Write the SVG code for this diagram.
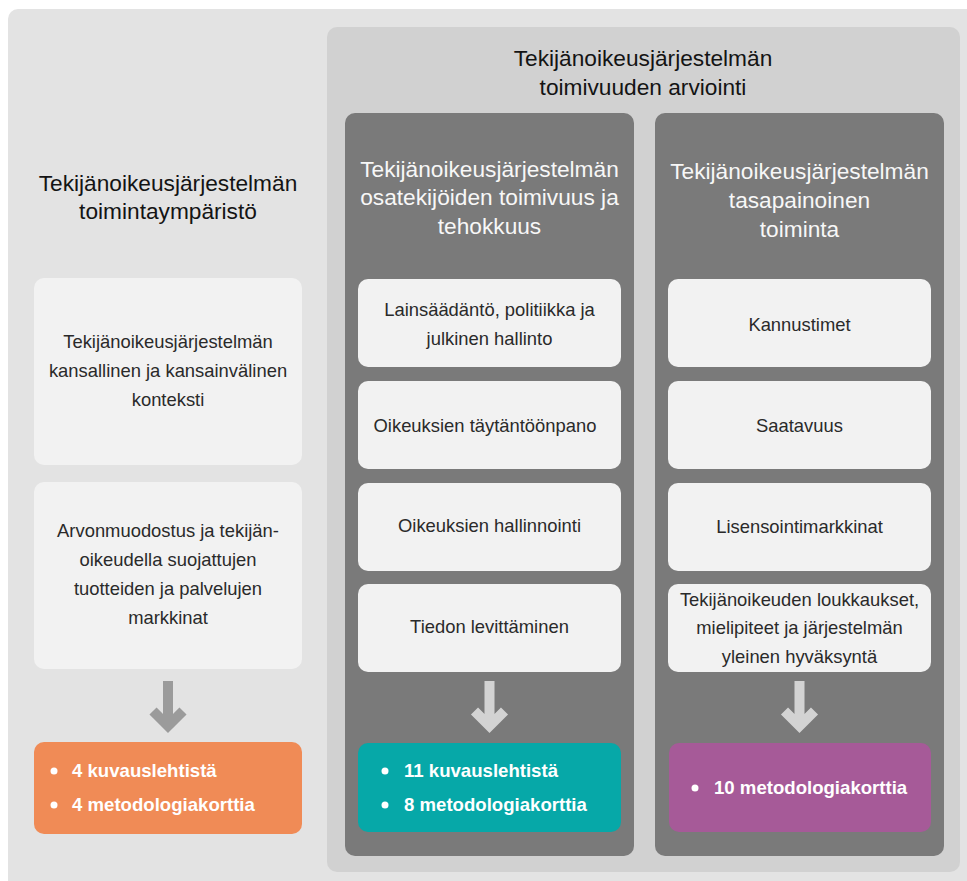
<svg xmlns="http://www.w3.org/2000/svg" width="967" height="881" viewBox="0 0 967 881">
<style>
.h{font-family:"Liberation Sans",Arial,sans-serif;font-size:22.7px;fill:#141414;text-anchor:middle}
.hw{font-family:"Liberation Sans",Arial,sans-serif;font-size:22.7px;fill:#f7f7f7;text-anchor:middle}
.t{font-family:"Liberation Sans",Arial,sans-serif;font-size:18.4px;fill:#2a2a2a;text-anchor:middle}
.b{font-family:"Liberation Sans",Arial,sans-serif;font-size:18.6px;font-weight:bold;fill:#ffffff}
.box{fill:#f2f2f2}
.arL{fill:none;stroke:#9b9b9b;stroke-width:10}
.arD{fill:none;stroke:#d3d3d3;stroke-width:10}
</style>
<rect x="8" y="9" width="970" height="890" rx="10" fill="#e3e3e3"/>
<g id="panel-arviointi">
<rect x="327" y="27" width="633" height="845" rx="10" fill="#d1d1d1"/>
<text class="h" x="643" y="66">Tekijänoikeusjärjestelmän</text>
<text class="h" x="643" y="95">toimivuuden arviointi</text>
</g>
<g id="col-left-heading">
<text class="h" x="168" y="191">Tekijänoikeusjärjestelmän</text>
<text class="h" x="168" y="219">toimintaympäristö</text>
</g>
<g id="col-mid">
<rect x="345" y="113" width="289" height="743" rx="10" fill="#7a7a7a"/>
<text class="hw" x="489.5" y="177">Tekijänoikeusjärjestelmän</text>
<text class="hw" x="489.5" y="205">osatekijöiden toimivuus ja</text>
<text class="hw" x="489.5" y="234">tehokkuus</text>
</g>
<g id="col-right">
<rect x="655" y="113" width="289" height="743" rx="10" fill="#7a7a7a"/>
<text class="hw" x="799.5" y="179">Tekijänoikeusjärjestelmän</text>
<text class="hw" x="799.5" y="208">tasapainoinen</text>
<text class="hw" x="799.5" y="237">toiminta</text>
</g>
<g id="left-box1">
<rect class="box" x="34" y="278" width="268" height="187" rx="10"/>
<text class="t" x="168" y="348">Tekijänoikeusjärjestelmän</text>
<text class="t" x="168" y="377">kansallinen ja kansainvälinen</text>
<text class="t" x="168" y="406">konteksti</text>
</g>
<g id="left-box2">
<rect class="box" x="34" y="482" width="268" height="187" rx="10"/>
<text class="t" x="168" y="537">Arvonmuodostus ja tekijän-</text>
<text class="t" x="168" y="566">oikeudella suojattujen</text>
<text class="t" x="168" y="595">tuotteiden ja palvelujen</text>
<text class="t" x="168" y="624">markkinat</text>
</g>
<g id="mid-box1">
<rect class="box" x="358" y="279" width="263" height="88" rx="10"/>
<text class="t" x="489.5" y="316">Lainsäädäntö, politiikka ja</text>
<text class="t" x="489.5" y="345">julkinen hallinto</text>
</g>
<g id="mid-box2">
<rect class="box" x="358" y="381" width="263" height="88" rx="10"/>
<text class="t" x="485" y="432">Oikeuksien täytäntöönpano</text>
</g>
<g id="mid-box3">
<rect class="box" x="358" y="483" width="263" height="88" rx="10"/>
<text class="t" x="489.5" y="532">Oikeuksien hallinnointi</text>
</g>
<g id="mid-box4">
<rect class="box" x="358" y="584" width="263" height="88" rx="10"/>
<text class="t" x="489.5" y="633">Tiedon levittäminen</text>
</g>
<g id="right-box1">
<rect class="box" x="668" y="279" width="263" height="88" rx="10"/>
<text class="t" x="799.5" y="331">Kannustimet</text>
</g>
<g id="right-box2">
<rect class="box" x="668" y="381" width="263" height="88" rx="10"/>
<text class="t" x="799.5" y="432">Saatavuus</text>
</g>
<g id="right-box3">
<rect class="box" x="668" y="483" width="263" height="88" rx="10"/>
<text class="t" x="799.5" y="533">Lisensointimarkkinat</text>
</g>
<g id="right-box4">
<rect class="box" x="668" y="584" width="263" height="88" rx="10"/>
<text class="t" x="799.5" y="606">Tekijänoikeuden loukkaukset,</text>
<text class="t" x="799.5" y="634">mielipiteet ja järjestelmän</text>
<text class="t" x="799.5" y="663">yleinen hyväksyntä</text>
</g>
<g id="result-left">
<rect x="34" y="742" width="268" height="92" rx="10" fill="#f08b56"/>
<circle cx="54" cy="771" r="3.5" fill="#fff"/>
<circle cx="54" cy="805" r="3.5" fill="#fff"/>
<text class="b" x="72" y="777">4 kuvauslehtistä</text>
<text class="b" x="72" y="811">4 metodologiakorttia</text>
</g>
<g id="result-mid">
<rect x="358" y="743" width="263" height="89" rx="10" fill="#06a8a8"/>
<circle cx="385" cy="771" r="3.5" fill="#fff"/>
<circle cx="385" cy="805" r="3.5" fill="#fff"/>
<text class="b" x="404" y="777">11 kuvauslehtistä</text>
<text class="b" x="404" y="811">8 metodologiakorttia</text>
</g>
<g id="result-right">
<rect x="669" y="743" width="262" height="89" rx="10" fill="#a65a98"/>
<circle cx="695" cy="788" r="3.5" fill="#fff"/>
<text class="b" x="714" y="794">10 metodologiakorttia</text>
</g>
<g id="connectors">
<path class="arL" d="M168 681V726M153 711L168 726L183 711"/>
<path class="arD" d="M489.5 681V726M474.5 711L489.5 726L504.5 711"/>
<path class="arD" d="M799.5 681V726M784.5 711L799.5 726L814.5 711"/>
</g>
</svg>
